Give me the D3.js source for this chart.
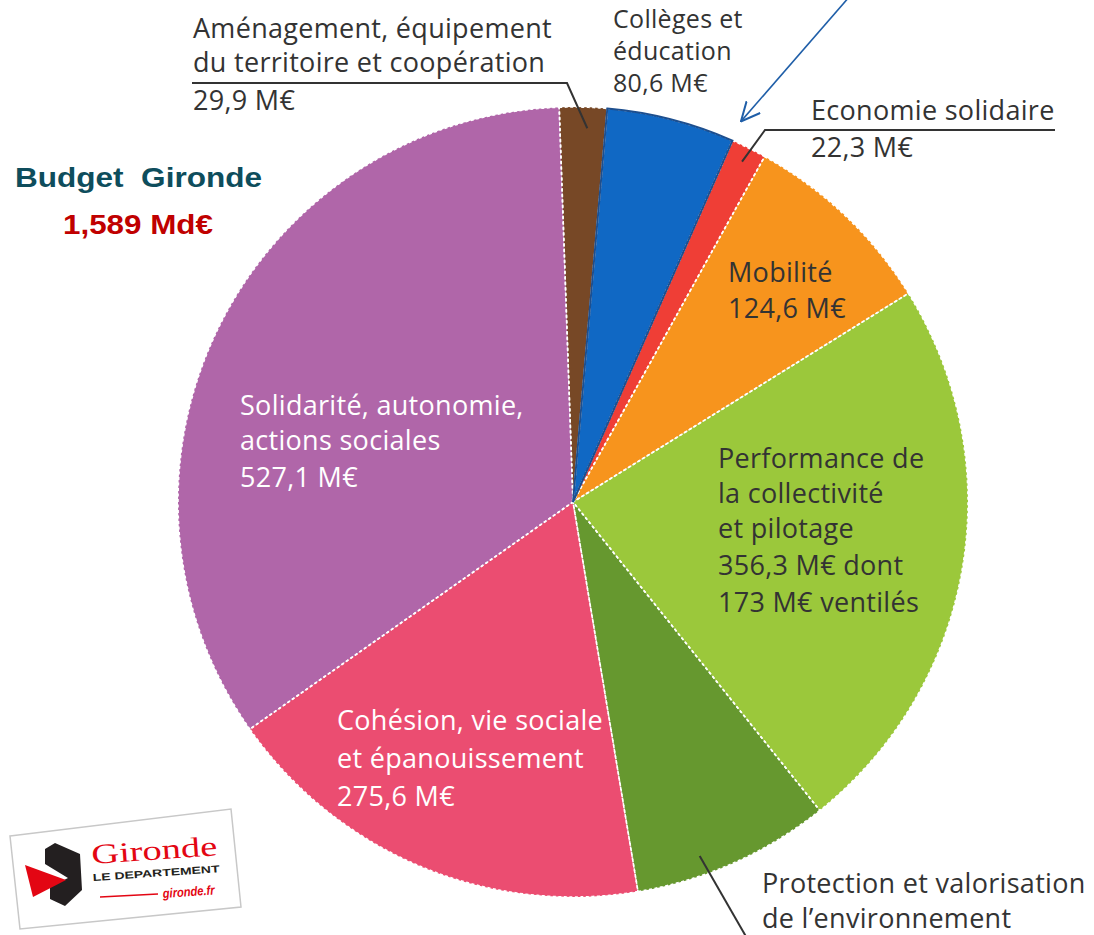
<!DOCTYPE html>
<html>
<head>
<meta charset="utf-8">
<script src="https://cdn.jsdelivr.net/npm/d3@7"></script>
<style>
  body { margin: 0; background: #fff; }
  svg { display: block; }
  .lbl { font-family: "Open Sans", "Noto Sans", sans-serif; font-size: 27px; letter-spacing: 0.3px; }
</style>
</head>
<body>
<div id="chart"></div>
<script>
// Budget data (M€), clockwise from 12 o'clock
var categories = ["Aménagement, équipement du territoire et coopération", "Collèges et éducation",
    "Economie solidaire", "Mobilité", "Performance de la collectivité et pilotage",
    "Protection et valorisation de l’environnement", "Cohésion, vie sociale et épanouissement",
    "Solidarité, autonomie, actions sociales"];
var values = [29.9, 80.6, 22.3, 124.6, 356.3, 125, 275.6, 527.1]; // protection: value cut off, estimated from angle
var colors = ["#774826", "#1068c4", "#ef3e36", "#f7941d", "#9bc83b", "#66982f", "#eb4d71", "#b066a9"];
var labelLines = [
    ["Aménagement, équipement", "du territoire et coopération", "29,9 M€"],
    ["Collèges et", "éducation", "80,6 M€"],
    ["Economie solidaire", "22,3 M€"],
    ["Mobilité", "124,6 M€"],
    ["Performance de", "la collectivité", "et pilotage", "356,3 M€ dont", "173 M€ ventilés"],
    ["Protection et valorisation", "de l’environnement"],
    ["Cohésion, vie sociale", "et épanouissement", "275,6 M€"],
    ["Solidarité, autonomie,", "actions sociales", "527,1 M€"]
];
var titleText = "Budget  Gironde";
var totalText = "1,589 Md€";

// Layout
var width = 1094, height = 935;
var cx = 573, cy = 502, radius = 395;
var startDeg = -2;
var labelX = [193, 613, 811, 728, 718, 762, 337, 240];
var labelY = [[38, 72, 110], [28, 60, 92], [120, 157], [282, 318],
    [468, 503, 538, 575, 612], [893, 928], [730, 768, 806], [415, 450, 487]];
var labelSize = [27, 25, 27, 27, 27, 27, 27, 27];
var labelFill = ["#333", "#333", "#333", "#333", "#333", "#333", "#fff", "#fff"];

var svg = d3.select("#chart").append("svg")
    .attr("width", width)
    .attr("height", height);

var defs = svg.append("defs");
defs.append("marker")
    .attr("id", "arrowHead")
    .attr("viewBox", "0 0 10 10")
    .attr("refX", 9.5)
    .attr("refY", 5)
    .attr("markerUnits", "userSpaceOnUse")
    .attr("markerWidth", 20)
    .attr("markerHeight", 20)
    .attr("orient", "auto")
    .append("path")
    .attr("d", "M0,0.5 L9.5,5 L0,9.5")
    .attr("fill", "none")
    .attr("stroke", "#1f5ea8")
    .attr("stroke-width", 1);

var pie = d3.pie()
    .sort(null)
    .value(d => d)
    .startAngle(startDeg * Math.PI / 180)
    .endAngle(startDeg * Math.PI / 180 + 2 * Math.PI);
var arcs = pie(values);

var arc = d3.arc().innerRadius(0).outerRadius(radius);

var pieG = svg.append("g")
    .attr("transform", "translate(" + [cx, cy] + ")");

pieG.selectAll("path.slice")
    .data(arcs)
    .enter()
    .append("path")
    .attr("class", "slice")
    .attr("d", arc)
    .attr("fill", (d, i) => colors[i]);

// white dotted borders
pieG.selectAll("path.border")
    .data(arcs)
    .enter()
    .append("path")
    .attr("class", "border")
    .attr("d", arc)
    .attr("fill", "none")
    .attr("stroke", "#fff")
    .attr("stroke-width", 1.6)
    .attr("stroke-dasharray", "3,2.5");

// blue slice has a solid dark outline
pieG.append("path")
    .attr("d", arc(arcs[1]))
    .attr("fill", "none")
    .attr("stroke", "#1d4f8f")
    .attr("stroke-width", 2);

function pt(angle, r) {
    return [cx + r * Math.sin(angle), cy - r * Math.cos(angle)];
}
function along(d, t, r) {
    return pt(d.startAngle + t * (d.endAngle - d.startAngle), r);
}

// leader lines
var line = d3.line();
var leaders = [
    [[192, 83], [567, 83], along(arcs[0], 0.6, 374)],
    [[1055, 130], [765, 130], along(arcs[2], 0.5, 380)],
    [along(arcs[5], 0.65, 376), [748, 940]]
];
svg.selectAll("path.leader")
    .data(leaders)
    .enter()
    .append("path")
    .attr("class", "leader")
    .attr("d", d => line(d))
    .attr("fill", "none")
    .attr("stroke", "#333")
    .attr("stroke-width", 2);

// blue arrow pointing to economie solidaire
svg.append("path")
    .attr("d", line([[850, -4], pt(arcs[2].startAngle, 416)]))
    .attr("fill", "none")
    .attr("stroke", "#1f5ea8")
    .attr("stroke-width", 1.6)
    .attr("marker-end", "url(#arrowHead)");

// labels
categories.forEach(function(c, i) {
    var t = svg.append("text")
        .attr("class", "lbl")
        .style("font-size", labelSize[i] + "px")
        .attr("fill", labelFill[i]);
    labelLines[i].forEach(function(s, j) {
        t.append("tspan")
            .attr("x", labelX[i])
            .attr("y", labelY[i][j])
            .text(s);
    });
});

// title
svg.append("text")
    .attr("x", 15)
    .attr("y", 187)
    .attr("textLength", 247)
    .attr("lengthAdjust", "spacingAndGlyphs")
    .style("white-space", "pre")
    .style("font-family", "Liberation Sans, Arial, sans-serif")
    .style("font-weight", "bold")
    .style("font-size", "27px")
    .attr("fill", "#0e4d5c")
    .text(titleText);
svg.append("text")
    .attr("x", 63)
    .attr("y", 234)
    .attr("textLength", 150)
    .attr("lengthAdjust", "spacingAndGlyphs")
    .style("font-family", "Liberation Sans, Arial, sans-serif")
    .style("font-weight", "bold")
    .style("font-size", "27px")
    .attr("fill", "#c00000")
    .text(totalText);

// Gironde logo
var logo = svg.append("g").attr("class", "logo");
logo.append("polygon")
    .attr("points", "10,836 231,809 241,907 20,929")
    .attr("fill", "#fff")
    .attr("stroke", "#c8c8c8")
    .attr("stroke-width", 1.5);
logo.append("polygon")
    .attr("points", "45,849 55,843 80,854 82,890 65,906 50,899 50,887 68,878 45,864")
    .attr("fill", "#231f20");
logo.append("polygon")
    .attr("points", "25,865 66,880 33,897")
    .attr("fill", "#e30613");
logo.append("text")
    .attr("x", 92)
    .attr("y", 864)
    .attr("transform", "rotate(-4,92,864)")
    .attr("textLength", 126)
    .attr("lengthAdjust", "spacingAndGlyphs")
    .style("font-family", "Liberation Serif, serif")
    .style("font-size", "28px")
    .attr("fill", "#e30613")
    .text("Gironde");
logo.append("text")
    .attr("x", 93)
    .attr("y", 881)
    .attr("transform", "rotate(-4,93,881)")
    .attr("textLength", 127)
    .attr("lengthAdjust", "spacingAndGlyphs")
    .style("font-family", "Liberation Sans, sans-serif")
    .style("font-weight", "bold")
    .style("font-size", "10px")
    .attr("fill", "#231f20")
    .text("LE DEPARTEMENT");
logo.append("line")
    .attr("x1", 100).attr("y1", 897)
    .attr("x2", 158).attr("y2", 894)
    .attr("stroke", "#e30613")
    .attr("stroke-width", 1.5);
logo.append("text")
    .attr("x", 163)
    .attr("y", 898)
    .attr("transform", "rotate(-4,163,898)")
    .attr("textLength", 52)
    .attr("lengthAdjust", "spacingAndGlyphs")
    .style("font-family", "Liberation Sans, sans-serif")
    .style("font-weight", "bold")
    .style("font-style", "italic")
    .style("font-size", "13px")
    .attr("fill", "#e30613")
    .text("gironde.fr");
</script>
</body>
</html>
